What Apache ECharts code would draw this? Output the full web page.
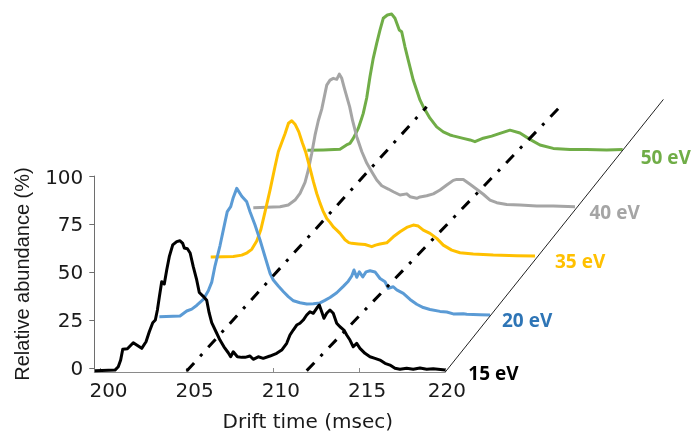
<!DOCTYPE html>
<html><head><meta charset="utf-8">
<script src="https://cdn.jsdelivr.net/npm/echarts@6/dist/echarts.min.js"></script>
<style>html,body{margin:0;padding:0;background:#fff}#c{width:694px;height:434px}</style>
</head><body><div id="c"></div><script>
// ---- data ----
const xTicks = [200, 205, 210, 215, 220];
const yTicks = [0, 25, 50, 75, 100];
const energyLabels = ['15 eV', '20 eV', '35 eV', '40 eV', '50 eV'];

const t15 = [199.68,200.84,201.03,201.17,201.29,201.56,201.9,202.1,202.39,202.64,202.83,203.03,203.18,203.3,203.41,203.55,203.7,203.84,203.99,204.19,204.42,204.61,204.77,204.86,205.04,205.2,205.38,205.58,205.73,205.96,206.16,206.3,206.45,206.7,206.93,207.16,207.41,207.55,207.7,207.94,208.19,208.38,208.67,208.86,209.15,209.44,209.83,210.22,210.51,210.8,210.99,211.18,211.38,211.57,211.76,211.96,212.15,212.34,212.54,212.69,212.83,212.96,213.12,213.31,213.5,213.7,213.89,214.12,214.28,214.47,214.66,214.86,215.05,215.34,215.63,215.92,216.21,216.5,216.79,217.08,217.37,217.76,218.14,218.53,218.92,219.3,220];
const a15 = [-1.1,-0.8,0.9,4.4,10.0,10.3,13.4,12.2,10.5,13.9,19.1,23.8,25.2,30.4,37,45.1,43.9,51.2,58.1,64.2,65.9,66.4,65,62.6,62.2,60,52.9,46,39.5,37.5,35.5,29,23.8,19.1,14.8,11.3,8.2,6.1,8.7,6.1,5.8,5.8,6.5,4.8,6.1,5.3,6.5,7.9,9.6,13.1,17.4,20,22.6,23.5,25.2,27.8,29.5,28.7,31.3,33,29.5,26.1,28.7,30.4,28.7,23.5,21.7,20,17.4,14.8,11.3,13.1,10.5,7.9,6.1,5.3,4.4,2.7,1.8,0.1,-0.4,0.1,-0.4,0.3,-0.4,-0.1,-0.8];

const t20 = [200.82,202.02,202.41,202.7,203.0,203.37,203.66,203.86,204.05,204.34,204.6,204.76,204.96,205.11,205.31,205.6,205.89,206.08,206.37,206.66,206.95,207.24,207.43,207.72,208.02,208.3,208.6,208.98,209.37,209.75,210.14,210.42,210.72,211.11,211.49,211.78,211.98,212.11,212.27,212.42,212.62,212.81,213.04,213.33,213.62,213.91,214.1,214.39,214.59,214.97,215.36,215.75,216.13,216.52,217.1,217.49,217.87,218.45,218.65,219.42,220];
const a20 = [-2.0,-1.6,1,2,4,7,11.5,16,24.5,35,46,52.6,55.2,60,64.7,60.6,57.7,52.6,45.7,37.9,29.2,20.6,17.1,14,11,8.5,6.3,5.3,4.6,4.8,5.2,6.5,8,10.5,13.8,16.5,19.2,22.3,18.5,21.3,18.7,21.3,21.9,21.3,17.9,16.2,12.8,13.6,12,10.2,7,4.5,2.8,1.8,0.8,0.5,-0.5,-0.4,-0.7,-0.9,-1.1];

const t35 = [201.19,201.92,202.5,202.99,203.3,203.57,203.86,204.09,204.34,204.63,204.92,205.11,205.31,205.5,205.7,205.89,206.08,206.3,206.5,206.7,206.95,207.15,207.34,207.53,207.7,207.92,208.11,208.3,208.5,208.69,208.98,209.2,209.37,209.75,210.14,210.53,210.75,211.01,211.4,211.78,212.17,212.56,212.94,213.23,213.52,213.91,214.3,214.68,215.17,215.65,216.42,217.58,218.94,220];
const a35 = [0,0.2,0.3,1,2.2,4,8.3,14,23.5,34.8,47,54.7,59.5,64,69.5,70.8,69,65,59.5,54.5,46,39,33,28,24,20,18,15.7,14,12.3,9,7.5,7.1,6.8,6.5,5.4,6.2,6.8,7.4,10.5,13.1,15.4,16.6,16.1,14,12.3,9.7,6.2,3.6,2.2,1.6,1,0.7,0.5];

const t40 = [201.34,202.12,202.89,203.37,203.76,204.05,204.34,204.53,204.73,204.92,205.11,205.31,205.5,205.6,205.79,205.98,206.18,206.33,206.47,206.6,206.76,206.93,207.1,207.34,207.63,207.92,208.21,208.5,208.79,209.17,209.46,209.85,210.24,210.43,210.82,211.01,211.4,211.78,212.17,212.56,212.94,213.14,213.52,213.91,214.3,214.68,215.07,215.46,216.04,216.81,217.78,218.74,220];
const a40 = [-0.2,0,0.3,1.2,3.8,7.3,13,19.4,28.1,37.5,45,51,59.2,63.5,66.1,67,66.5,69.2,67,62.6,57.5,52.2,45,36.7,29,23,18.5,14.2,11.2,9.5,8.1,6.4,7,5.5,4.7,5.4,6,7,9,11.6,14,14.5,14.5,12,9.4,6.8,3.8,2.4,1.5,1.2,0.7,0.7,0.3];

const t50 = [201.71,202.63,203.6,203.98,204.18,204.37,204.57,204.66,204.86,204.95,205.15,205.34,205.53,205.73,205.92,206.11,206.35,206.6,206.79,207.04,207.18,207.37,207.56,207.85,208.05,208.24,208.43,208.82,209.21,209.59,209.98,210.17,210.75,211.14,211.43,211.91,212.4,212.88,213.46,214.04,214.62,215.2,215.97,216.94,217.91,219.07,220];
const a50 = [-1.2,-1,-0.6,1.6,2.4,5,8.5,10.2,15.5,18,26,37,46.6,54.4,61.3,67.4,69.1,69.6,67.4,61.3,60.4,52.6,45.7,35.3,30,25,21.5,15.5,11,8.4,6.8,6.3,5,4.2,3.3,5.1,6.2,7.6,9.3,7.8,4.5,1.6,-0.2,-0.7,-0.7,-1,-0.7];

// dash-dot guide lines (front-trace units)
const guideStartTime = [205, 211.96];
const guideStartAbund = [-1.3, -1.1];
const guideEndTime = [218.92, 226.81];
const guideEndAbund = [136.0, 137.4];
// solid depth edge line
const edgeTime = [220, 232.65];
const edgeAbund = [-1.8, 139.8];

// ---- layout / style ----
const times = [t15, t20, t35, t40, t50];
const abunds = [a15, a20, a35, a40, a50];
const lineColors = ['#000000', '#5B9BD5', '#FFC000', '#A5A5A5', '#70AD47'];
const labelColors = ['#000000', '#2E75B6', '#FFC000', '#A5A5A5', '#70AD47'];
const depthShift = [[0, 0], [44.7, -55.6], [89.7, -111.5], [129.7, -161.2], [177.4, -220.5]];
const labelDist = [23, 12, 20, 14.5, 18];
const labelDrop = [4.7, 7, 6.7, 7, 9.7];

const PX_X = 17.24, PX_Y = 1.925;          // pixels per data unit
const G = { left: 94.3, bottom: 372 };     // pixel position of (X_MIN, Y_MIN) of the front plane
const X_MIN = 199.64, X_MAX = 220, Y_MIN = -1.8, Y_MAX = 100;
const TRACE_YMAX = 75, TRACE_YMIN = -2.5;
const GUIDE_XMAX = 234, GUIDE_YMAX = 145;

const zip = (a, b) => a.slice(0, Math.min(a.length, b.length)).map((v, i) => [v, b[i]]);
const font = { fontFamily: 'DejaVu Sans', fontSize: 20, color: '#1a1a1a' };

const grids = [], xAxes = [], yAxes = [], series = [];
function addGrid(dx, dy, xmin, xmax, ymin, ymax) {
  const h = (ymax - ymin) * PX_Y;
  const yminShift = (ymin - Y_MIN) * PX_Y;
  grids.push({
    left: G.left + dx, top: G.bottom + dy - yminShift - h,
    width: (xmax - xmin) * PX_X, height: h,
    outerBoundsMode: 'none', containLabel: false
  });
  return grids.length - 1;
}
function hiddenAxes(gi, xmin, xmax, ymin, ymax) {
  xAxes.push({ type: 'value', gridIndex: gi, min: xmin, max: xmax, show: false });
  yAxes.push({ type: 'value', gridIndex: gi, min: ymin, max: ymax, show: false });
}

// front plane with visible axes
addGrid(0, 0, X_MIN, X_MAX, Y_MIN, Y_MAX);
xAxes.push({
  type: 'value', gridIndex: 0, min: X_MIN, max: X_MAX,
  name: 'Drift time (msec)', nameLocation: 'middle', nameGap: 41,
  nameTextStyle: Object.assign({}, font, { padding: [0, 0, 0, 76] }),
  axisLine: { show: true, onZero: false, lineStyle: { color: '#8a8a8a', width: 1 } },
  axisTick: { show: true, inside: true, length: 4, customValues: xTicks, lineStyle: { color: '#8a8a8a' } },
  axisLabel: Object.assign({}, font, {
    show: true, customValues: xTicks, margin: 10,
    formatter: v => (v === 220 ? '{e|' + v + '}' : '{n|' + v + '}'),
    rich: { n: Object.assign({ padding: [0, 0, 0, 16] }, font), e: Object.assign({ padding: [0, 0, 0, 3] }, font) }
  }),
  splitLine: { show: false }
});
yAxes.push({
  type: 'value', gridIndex: 0, min: Y_MIN, max: Y_MAX,
  name: 'Relative abundance (%)', nameLocation: 'middle', nameGap: 61,
  nameTextStyle: { fontFamily: 'Liberation Sans', fontSize: 20, color: '#1a1a1a' },
  axisLine: { show: true, onZero: false, lineStyle: { color: '#6e6e6e', width: 1 } },
  axisTick: { show: true, length: 5, customValues: yTicks, lineStyle: { color: '#6e6e6e' } },
  axisLabel: Object.assign({}, font, {
    show: true, customValues: yTicks, margin: 11,
    formatter: v => (v === 100 ? '{t|100}' : '{o|' + v + '}'),
    rich: { t: Object.assign({ padding: [6, 0, 0, 0] }, font), o: Object.assign({ padding: [3, 0, 0, 0] }, font) }
  }),
  splitLine: { show: false }
});

// one plane per energy, shifted along the depth direction
const traceGrid = [0];
for (let k = 1; k < 5; k++) {
  const gi = addGrid(depthShift[k][0], depthShift[k][1], X_MIN, X_MAX, TRACE_YMIN, TRACE_YMAX);
  hiddenAxes(gi, X_MIN, X_MAX, TRACE_YMIN, TRACE_YMAX);
  traceGrid.push(gi);
}
// wide plane for guide lines (same scale as front plane)
const guideGrid = addGrid(0, 0, X_MIN, GUIDE_XMAX, Y_MIN, GUIDE_YMAX);
hiddenAxes(guideGrid, X_MIN, GUIDE_XMAX, Y_MIN, GUIDE_YMAX);

for (let k = 4; k >= 0; k--) {
  const data = zip(times[k], abunds[k]);
  series.push({
    type: 'line', name: energyLabels[k], xAxisIndex: traceGrid[k], yAxisIndex: traceGrid[k],
    data: data, symbol: 'none', clip: false, silent: true,
    lineStyle: { color: lineColors[k], width: 3, join: 'round' },
    endLabel: {
      show: true, distance: 0,
      formatter: '{a|' + energyLabels[k] + '}',
      rich: {
        a: {
          color: labelColors[k], fontFamily: 'Open Sans', fontWeight: 'bold', fontSize: 19,
          padding: [labelDrop[k] * 2, 0, 0, labelDist[k]]
        }
      }
    }
  });
}
for (let i = 0; i < guideStartTime.length; i++) {
  series.push({
    type: 'line', xAxisIndex: guideGrid, yAxisIndex: guideGrid, symbol: 'none', clip: false, silent: true,
    data: [[guideStartTime[i], guideStartAbund[i]], [guideEndTime[i], guideEndAbund[i]]],
    lineStyle: { color: '#000', width: 3, type: [11, 9, 3, 9], cap: 'butt' }
  });
}
series.push({
  type: 'line', xAxisIndex: guideGrid, yAxisIndex: guideGrid, symbol: 'none', clip: false, silent: true,
  data: zip(edgeTime, edgeAbund),
  lineStyle: { color: '#222', width: 1 }
});

const chart = echarts.init(document.getElementById('c'), null, { renderer: 'canvas' });
chart.setOption({
  animation: false, backgroundColor: '#fff',
  grid: grids, xAxis: xAxes, yAxis: yAxes, series: series
});
</script></body></html>
